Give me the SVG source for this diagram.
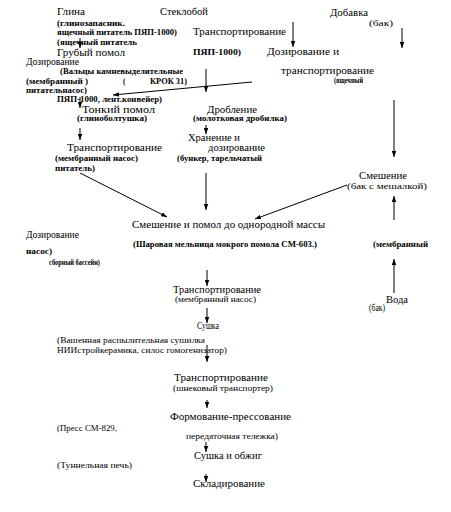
<svg xmlns="http://www.w3.org/2000/svg" width="451" height="512" viewBox="0 0 451 512">
<style>
text{font-family:"Liberation Serif","DejaVu Serif",serif;fill:#000}
.m{font-size:10px}
.l{font-size:11px}
.b{font-size:7.2px;font-weight:bold}
.n{font-size:7.2px}
.c line{stroke:#000;stroke-width:1}
</style>
<defs>
<marker id="ah" viewBox="0 0 8 6" refX="8" refY="3" markerWidth="6" markerHeight="5" markerUnits="userSpaceOnUse" orient="auto">
<path d="M0,0 L8,3 L0,6 z" fill="#000"/>
</marker>
</defs>
<rect width="451" height="512" fill="#fff"/>
<g id="glina">
<text class="m" x="57" y="15" textLength="28" lengthAdjust="spacingAndGlyphs">Глина</text>
<text class="b" x="57" y="26" textLength="68" lengthAdjust="spacingAndGlyphs">(глинозапасник.</text>
<text class="b" x="57" y="35" textLength="120" lengthAdjust="spacingAndGlyphs">ящечный питатель ПЯП-1000)</text>
<text class="b" x="57" y="45" textLength="80" lengthAdjust="spacingAndGlyphs">(ящечный питатель</text>
</g>
<g id="steklo">
<text class="m" x="160" y="15" textLength="48" lengthAdjust="spacingAndGlyphs">Стеклобой</text>
<text class="m" x="193" y="35" textLength="93" lengthAdjust="spacingAndGlyphs">Транспортирование</text>
<text class="b" x="193" y="55" textLength="48" lengthAdjust="spacingAndGlyphs">ПЯП-1000)</text>
</g>
<g id="dobavka">
<text class="m" x="330" y="16" textLength="38" lengthAdjust="spacingAndGlyphs">Добавка</text>
<text class="n" x="369" y="26" textLength="24" lengthAdjust="spacingAndGlyphs">(бак)</text>
<text class="m" x="267" y="55" textLength="72" lengthAdjust="spacingAndGlyphs">Дозирование и</text>
<text class="m" x="281" y="74" textLength="93" lengthAdjust="spacingAndGlyphs">транспортирование</text>
<text class="b" x="334" y="83" textLength="29" lengthAdjust="spacingAndGlyphs">(ящечный</text>
</g>
<g id="grubyi">
<text class="l" x="57" y="56" textLength="68" lengthAdjust="spacingAndGlyphs">Грубый помол</text>
<text class="m" x="26" y="65" textLength="53" lengthAdjust="spacingAndGlyphs">Дозирование</text>
<text class="b" x="60" y="74" textLength="123" lengthAdjust="spacingAndGlyphs">(Вальцы камневыделительные</text>
<text class="b" x="26" y="84" textLength="62" lengthAdjust="spacingAndGlyphs">(мембранный )</text>
<text class="b" x="123" y="84">(</text>
<text class="b" x="150" y="84" textLength="37" lengthAdjust="spacingAndGlyphs">КРОК 31)</text>
<text class="b" x="26" y="93" textLength="61" lengthAdjust="spacingAndGlyphs">питательнасос)</text>
<text class="b" x="57" y="102" textLength="105" lengthAdjust="spacingAndGlyphs">ПЯП-1000, лент.конвейер)</text>
</g>
<g id="tonkiy">
<text class="l" x="82" y="113" textLength="73" lengthAdjust="spacingAndGlyphs">Тонкий помол</text>
<text class="b" x="77" y="121" textLength="70" lengthAdjust="spacingAndGlyphs">(глиноболтушка)</text>
</g>
<g id="droblenie">
<text class="m" x="207" y="113" textLength="50" lengthAdjust="spacingAndGlyphs">Дробление</text>
<text class="b" x="193" y="121" textLength="94" lengthAdjust="spacingAndGlyphs">(молотковая дробилка)</text>
</g>
<g id="hranenie">
<text class="m" x="188" y="141" textLength="52" lengthAdjust="spacingAndGlyphs">Хранение и</text>
<text class="m" x="208" y="151" textLength="57" lengthAdjust="spacingAndGlyphs">дозирование</text>
<text class="b" x="177" y="161" textLength="85" lengthAdjust="spacingAndGlyphs">(бункер, тарельчатый</text>
</g>
<g id="transp1">
<text class="m" x="67" y="151" textLength="95" lengthAdjust="spacingAndGlyphs">Транспортирование</text>
<text class="b" x="55" y="161" textLength="83" lengthAdjust="spacingAndGlyphs">(мембранный насос)</text>
<text class="b" x="55" y="171" textLength="40" lengthAdjust="spacingAndGlyphs">питатель)</text>
</g>
<g id="smeshenie">
<text class="m" x="359" y="179" textLength="48" lengthAdjust="spacingAndGlyphs">Смешение</text>
<text class="n" x="347" y="189" font-size="9" textLength="80" lengthAdjust="spacingAndGlyphs">(бак с мешалкой)</text>
</g>
<g id="pomol">
<text class="m" x="132" y="228" textLength="193" lengthAdjust="spacingAndGlyphs">Смешение и помол до однородной массы</text>
<text class="m" x="26" y="238" textLength="53" lengthAdjust="spacingAndGlyphs">Дозирование</text>
<text class="b" x="133" y="247" textLength="184" lengthAdjust="spacingAndGlyphs">(Шаровая мельница мокрого помола СМ-603.)</text>
<text class="b" x="373" y="247" textLength="55" lengthAdjust="spacingAndGlyphs">(мембранный</text>
<text class="b" x="26" y="254" textLength="26" lengthAdjust="spacingAndGlyphs">насос)</text>
<text class="b" x="49" y="265" textLength="51" lengthAdjust="spacingAndGlyphs">сборный бассейн)</text>
</g>
<g id="voda">
<text class="m" x="386" y="303" textLength="22" lengthAdjust="spacingAndGlyphs">Вода</text>
<text class="m" x="369" y="311" textLength="16" lengthAdjust="spacingAndGlyphs">(бак)</text>
</g>
<g id="transp2">
<text class="m" x="173" y="293" textLength="88" lengthAdjust="spacingAndGlyphs">Транспортирование</text>
<text class="n" x="175" y="302" textLength="81" lengthAdjust="spacingAndGlyphs">(мембранный насос)</text>
</g>
<g id="sushka">
<text class="m" x="197" y="329" textLength="22" lengthAdjust="spacingAndGlyphs">Сушка</text>
<text class="n" x="57" y="343" textLength="148" lengthAdjust="spacingAndGlyphs">(Вашенная распылительная сушилка</text>
<text class="n" x="57" y="353" textLength="170" lengthAdjust="spacingAndGlyphs">НИИстройкерамика, силос гомогенизатор)</text>
</g>
<g id="transp3">
<text class="m" x="174" y="381" textLength="94" lengthAdjust="spacingAndGlyphs">Транспортирование</text>
<text class="n" x="173" y="391" textLength="100" lengthAdjust="spacingAndGlyphs">(шнековый транспортер)</text>
</g>
<g id="formovanie">
<text class="m" x="170" y="420" textLength="121" lengthAdjust="spacingAndGlyphs">Формование-прессование</text>
<text class="n" x="57" y="431" textLength="60" lengthAdjust="spacingAndGlyphs">(Пресс СМ-829,</text>
<text class="n" x="186" y="439" textLength="92" lengthAdjust="spacingAndGlyphs">передаточная тележка)</text>
</g>
<g id="obzhig">
<text class="m" x="194" y="459" textLength="68" lengthAdjust="spacingAndGlyphs">Сушка и обжиг</text>
<text class="n" x="57" y="468" textLength="75" lengthAdjust="spacingAndGlyphs">(Туннельная печь)</text>
</g>
<g id="sklad">
<text class="m" x="193" y="487" textLength="72" lengthAdjust="spacingAndGlyphs">Складирование</text>
</g>
<g id="connectors" class="c">
<line x1="80" y1="38" x2="80" y2="48" marker-end="url(#ah)"/>
<line x1="293" y1="22" x2="293" y2="47" marker-end="url(#ah)"/>
<line x1="402" y1="28" x2="402" y2="48" marker-end="url(#ah)"/>
<line x1="206" y1="69" x2="206" y2="92" marker-end="url(#ah)"/>
<line x1="252" y1="82" x2="113" y2="95" marker-end="url(#ah)"/>
<line x1="80" y1="97" x2="80" y2="108" marker-end="url(#ah)"/>
<line x1="80" y1="128" x2="80" y2="140" marker-end="url(#ah)"/>
<line x1="206" y1="125" x2="206" y2="134" marker-end="url(#ah)"/>
<line x1="80" y1="173" x2="167" y2="217" marker-end="url(#ah)"/>
<line x1="206" y1="173" x2="206" y2="210" marker-end="url(#ah)"/>
<line x1="347" y1="185" x2="255" y2="219" marker-end="url(#ah)"/>
<line x1="394" y1="100" x2="394" y2="157" marker-end="url(#ah)"/>
<line x1="394" y1="220" x2="394" y2="196" marker-end="url(#ah)"/>
<line x1="394" y1="293" x2="394" y2="259" marker-end="url(#ah)"/>
<line x1="207" y1="270" x2="207" y2="286" marker-end="url(#ah)"/>
<line x1="207" y1="308" x2="207" y2="323" marker-end="url(#ah)"/>
<line x1="207" y1="345" x2="207" y2="362" marker-end="url(#ah)"/>
<line x1="207" y1="400" x2="207" y2="408" marker-end="url(#ah)"/>
<line x1="206" y1="442" x2="206" y2="452" marker-end="url(#ah)"/>
<line x1="206" y1="474" x2="206" y2="482" marker-end="url(#ah)"/>
</g>
</svg>
